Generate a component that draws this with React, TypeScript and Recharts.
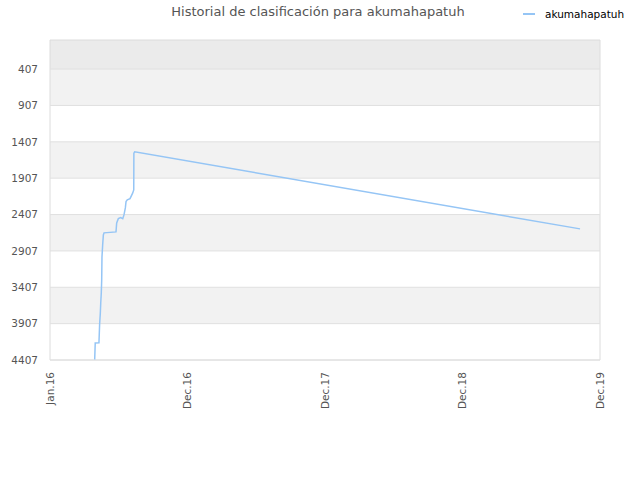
import React from 'react';
import {
  LineChart,
  Line,
  XAxis,
  YAxis,
  ReferenceArea,
  ReferenceLine,
} from 'recharts';

// x position in "tick units": 0 = Jan.16, 1 = Dec.16, 2 = Dec.17 ...
const xLabels = ['Jan.16', 'Dec.16', 'Dec.17', 'Dec.18', 'Dec.19'];
const xTicks = [0, 1, 2, 3, 4];
const yTicks = [407, 907, 1407, 1907, 2407, 2907, 3407, 3907, 4407];
const yTop = 7;

const positions = [
  0.325, 0.329, 0.356, 0.361, 0.366, 0.369, 0.373, 0.376, 0.378, 0.383,
  0.388, 0.393, 0.48, 0.485, 0.497, 0.514, 0.529, 0.538, 0.548, 0.553,
  0.562, 0.582, 0.601, 0.609, 0.61, 0.616, 3.855,
];
const ranks = [
  4400, 4173, 4169, 3912, 3760, 3623, 3485, 3306, 2990, 2825,
  2687, 2659, 2646, 2522, 2463, 2449, 2463, 2412, 2316, 2229,
  2205, 2188, 2113, 2068, 1563, 1545, 2604,
];

const data = positions.map((p, i) => ({ t: p, rank: ranks[i] }));

const FONT = '"DejaVu Sans", sans-serif';

const XTick = (props: any) => {
  const { x, y, payload } = props;
  return (
    <text
      x={x}
      y={y + 4}
      transform={`rotate(-90, ${x}, ${y + 4})`}
      textAnchor="end"
      dy="0.35em"
      fontSize={10.5}
      fontFamily={FONT}
      fill="#555"
    >
      {xLabels[payload.value]}
    </text>
  );
};

export default function App() {
  return (
    <div style={{ position: 'absolute', left: 0, top: 0, width: 640, height: 480, background: '#fff' }}>
      <div
        style={{
          position: 'absolute',
          top: 4,
          left: 0,
          width: 636,
          textAlign: 'center',
          fontFamily: FONT,
          fontSize: 13,
          color: '#555',
        }}
      >
        Historial de clasificación para akumahapatuh
      </div>
      <div
        style={{
          position: 'absolute',
          top: 8,
          left: 523,
          display: 'flex',
          alignItems: 'center',
          fontFamily: FONT,
          fontSize: 10.5,
          color: '#000',
        }}
      >
        <span style={{ display: 'inline-block', width: 12, height: 2, background: '#95c5f5', marginRight: 10 }} />
        <span>akumahapatuh</span>
      </div>
      <LineChart width={640} height={480} data={data} margin={{ top: 40, right: 40, bottom: 60, left: 0 }}>
        <ReferenceArea y1={yTop} y2={yTicks[0]} fill="#ebebeb" fillOpacity={1} stroke="none" />
        {yTicks.slice(0, -1).map((v, i) => (
          <ReferenceArea
            key={v}
            y1={v}
            y2={yTicks[i + 1]}
            fill={i % 2 === 0 ? '#f2f2f2' : '#ffffff'}
            fillOpacity={1}
            stroke="none"
          />
        ))}
        {yTicks.map((v) => (
          <ReferenceLine key={`g${v}`} y={v} stroke="#e0e0e0" />
        ))}
        <ReferenceArea x1={0} x2={4} y1={yTop} y2={yTicks[yTicks.length - 1]} fill="none" stroke="#dcdcdc" />
        <XAxis
          dataKey="t"
          type="number"
          domain={[0, 4]}
          ticks={xTicks}
          interval={0}
          height={60}
          axisLine={false}
          tickLine={false}
          tick={<XTick />}
        />
        <YAxis
          type="number"
          reversed
          domain={[yTop, 4407]}
          ticks={yTicks}
          interval={0}
          width={50}
          axisLine={false}
          tickLine={false}
          tickSize={6}
          tickMargin={6}
          tick={{ fontSize: 10.5, fontFamily: FONT, fill: '#555' }}
        />
        <Line
          dataKey="rank"
          type="linear"
          stroke="#95c5f5"
          strokeWidth={1.5}
          dot={false}
          isAnimationActive={false}
        />
      </LineChart>
    </div>
  );
}
